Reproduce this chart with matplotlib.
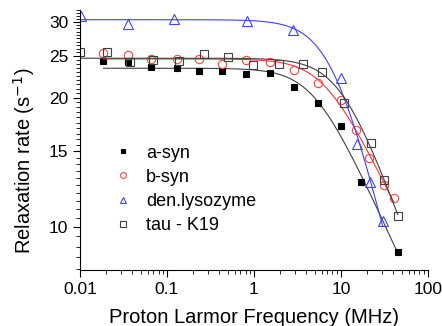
import numpy as np
import matplotlib
matplotlib.use('Agg')
import matplotlib.pyplot as plt
from matplotlib.ticker import FixedLocator, MultipleLocator, LogLocator, NullFormatter

plt.rcParams['font.family'] = ['Liberation Sans', 'DejaVu Sans']

# data (frequency in MHz, rate in s^-1)
f_asyn = [0.0186, 0.0355, 0.0653, 0.130, 0.231, 0.434, 0.807, 1.52, 2.86, 5.42, 10.0, 17.0, 45.3]
r_asyn = [24.4, 24.2, 23.6, 23.4, 23.1, 23.1, 22.7, 22.8, 21.2, 19.4, 17.2, 12.7, 8.73]

f_bsyn = [0.0186, 0.0355, 0.0653, 0.130, 0.231, 0.434, 0.807, 1.52, 2.86, 5.42, 10.0, 15.1, 21.1, 31.0, 40.4]
r_bsyn = [25.4, 25.2, 24.6, 24.6, 24.6, 24.0, 24.5, 24.2, 23.2, 21.7, 19.8, 16.8, 14.45, 12.5, 11.66]

f_lys = [0.0102, 0.0355, 0.121, 0.822, 2.84, 10.0, 15.2, 21.4, 30.2]
r_lys = [31.0, 29.7, 30.5, 30.2, 28.7, 22.2, 15.6, 12.7, 10.3]

f_tau = [0.01, 0.0203, 0.0377, 0.070, 0.139, 0.264, 0.51, 0.98, 1.92, 3.64, 6.07, 10.9, 22.1, 31.5, 45.0]
r_tau = [25.5, 25.5, 24.2, 24.5, 24.4, 25.3, 24.9, 23.9, 24.0, 24.0, 23.0, 19.4, 15.7, 12.85, 10.6]


def fit_curve(f, r):
    # R = R0*(1+(f/fc)^2)^(-b), least squares in log space, grid over fc
    f = np.array(f)
    lr = np.log(np.array(r))
    best = None
    for fc in np.logspace(-0.5, 2, 600):
        X = np.column_stack([np.ones_like(f), -np.log(1 + (f / fc) ** 2)])
        coef, res, rk, sv = np.linalg.lstsq(X, lr, rcond=None)
        err = np.sum((X @ coef - lr) ** 2)
        if best is None or err < best[0]:
            best = (err, fc, coef)
    err, fc, coef = best
    x = np.logspace(np.log10(f.min()), np.log10(f.max()), 300)
    y = np.exp(coef[0] - coef[1] * np.log(1 + (x / fc) ** 2))
    return x, y


fig = plt.figure(figsize=(4.42, 3.26), dpi=100)
ax = fig.add_axes([0.181, 0.172, 0.787, 0.797])

series = [
    (f_asyn, r_asyn, 's', 'black', 'black', '#404040', 'a-syn', 5),
    (f_bsyn, r_bsyn, 'o', 'none', '#ff4040', '#ff3030', 'b-syn', 6),
    (f_lys, r_lys, '^', 'none', '#4040ff', '#4040ff', 'den.lysozyme', 6.5),
    (f_tau, r_tau, 's', 'none', '#404040', '#404040', 'tau - K19', 5.5),
]

for f, r, m, fc_, ec, lc, lab, ms in series:
    x, y = fit_curve(f, r)
    ax.plot(x, y, '-', color=lc, lw=0.8)
    ax.plot(f, r, m, mfc=fc_, mec=ec, mew=0.8, ms=ms, label=lab, linestyle='none')

ax.set_xscale('log')
ax.set_yscale('log')
ax.set_xlim(0.01, 100)
ax.set_ylim(7.94, 32)

ax.yaxis.set_major_locator(FixedLocator([10, 15, 20, 25, 30]))
ax.yaxis.set_minor_locator(MultipleLocator(0.5))
ax.yaxis.set_major_formatter(plt.FixedFormatter(['10', '15', '20', '25', '30']))
ax.yaxis.set_minor_formatter(NullFormatter())

ax.xaxis.set_major_locator(FixedLocator([0.01, 0.1, 1, 10, 100]))
ax.xaxis.set_major_formatter(plt.FixedFormatter(['0.01', '0.1', '1', '10', '100']))
ax.xaxis.set_minor_locator(LogLocator(base=10, subs=np.arange(2, 10)))
ax.xaxis.set_minor_formatter(NullFormatter())

ax.spines['top'].set_visible(False)
ax.spines['right'].set_visible(False)
ax.tick_params(which='major', direction='out', length=5, width=0.8, labelsize=12.5)
ax.tick_params(which='minor', direction='out', length=3, width=0.6)

ax.set_xlabel('Proton Larmor Frequency (MHz)', fontsize=14.5)
ax.xaxis.set_label_coords(0.5, -0.145)
ax.set_ylabel('Relaxation rate (s$^{-1}$)', fontsize=14.5, va='center')
ax.yaxis.set_label_coords(-0.161, 0.42)

ax.legend(loc='upper left', bbox_to_anchor=(0.05, 0.545), frameon=False, fontsize=13,
          markerscale=0.7, handletextpad=0.8, labelspacing=0.4, handlelength=1.0)

plt.savefig('out.png', dpi=100)
